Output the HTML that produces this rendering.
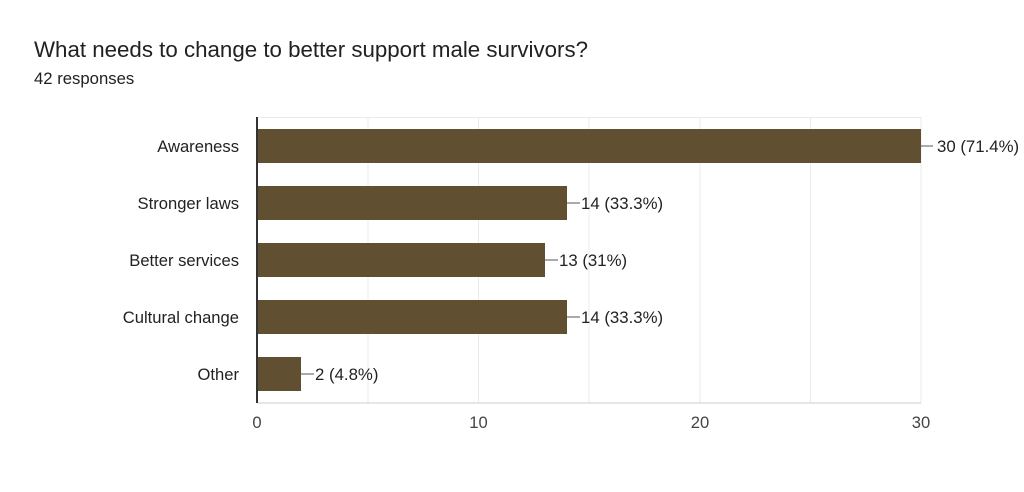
<!DOCTYPE html>
<html><head><meta charset="utf-8"><style>
body{margin:0;background:#fff;width:1024px;height:487px;overflow:hidden;font-family:"Liberation Sans",Arial,sans-serif}
</style></head><body>
<svg width="1024" height="487" xmlns="http://www.w3.org/2000/svg" font-family="Liberation Sans, Arial, sans-serif">
<text x="34" y="57" font-size="22.3" fill="#202124">What needs to change to better support male survivors?</text>
<text x="34" y="84" font-size="16.7" fill="#202124">42 responses</text>
<g stroke="#ebebeb" stroke-width="1">
<line x1="257" y1="117.5" x2="921" y2="117.5"/>
<line x1="368" y1="117" x2="368" y2="403"/>
<line x1="478.5" y1="117" x2="478.5" y2="403"/>
<line x1="589" y1="117" x2="589" y2="403"/>
<line x1="700" y1="117" x2="700" y2="403"/>
<line x1="810.5" y1="117" x2="810.5" y2="403"/>
<line x1="921" y1="117" x2="921" y2="403"/>
<line x1="257" y1="403" x2="921" y2="403" stroke="#ccc"/>
</g>
<g fill="#614f31">
<rect x="257" y="129" width="664" height="34"/>
<rect x="257" y="186" width="310" height="34"/>
<rect x="257" y="243" width="288" height="34"/>
<rect x="257" y="300" width="310" height="34"/>
<rect x="257" y="357" width="44" height="34"/>
</g>
<line x1="257" y1="117" x2="257" y2="403" stroke="#333" stroke-width="2"/>
<g stroke="#555" stroke-width="1">
<line x1="921" y1="146" x2="933" y2="146"/>
<line x1="567" y1="203" x2="580" y2="203"/>
<line x1="545" y1="260" x2="558" y2="260"/>
<line x1="567" y1="317" x2="580" y2="317"/>
<line x1="301" y1="374" x2="314" y2="374"/>
</g>
<g font-size="16.8" fill="#222">
<text x="937" y="152">30 (71.4%)</text>
<text x="581" y="209">14 (33.3%)</text>
<text x="559" y="266">13 (31%)</text>
<text x="581" y="323">14 (33.3%)</text>
<text x="315" y="380">2 (4.8%)</text>
</g>
<g font-size="16.6" fill="#222" text-anchor="end">
<text x="239" y="152">Awareness</text>
<text x="239" y="209">Stronger laws</text>
<text x="239" y="266">Better services</text>
<text x="239" y="323">Cultural change</text>
<text x="239" y="380">Other</text>
</g>
<g font-size="16.6" fill="#444" text-anchor="middle">
<text x="257" y="428">0</text>
<text x="478.5" y="428">10</text>
<text x="700" y="428">20</text>
<text x="921" y="428">30</text>
</g>
</svg>
</body></html>
